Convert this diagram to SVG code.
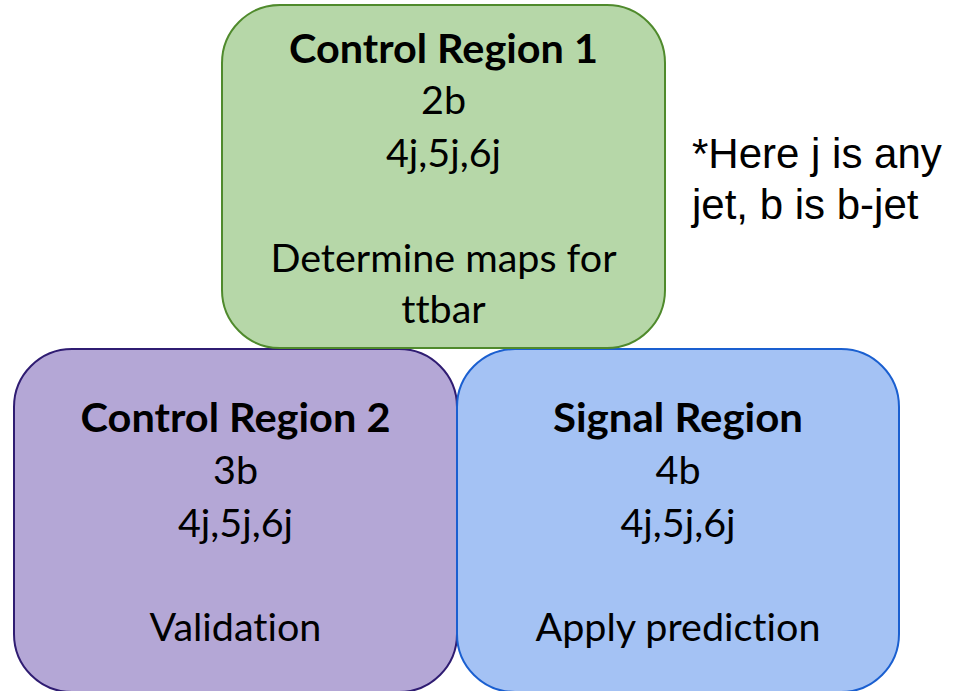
<svg xmlns="http://www.w3.org/2000/svg" width="957" height="691" viewBox="0 0 957 691">
  <style>
    .box { stroke-width: 2; }
    .cr1 { fill: #b6d7a8; stroke: #4f8a2c; }
    .cr2 { fill: #b4a7d6; stroke: #2f1c72; }
    .sr  { fill: #a4c2f4; stroke: #1a5fd0; }
    .t { font-family: Lato, "Open Sans", "Noto Sans", sans-serif; font-size: 39.5px; fill: #000; text-anchor: middle; font-variant-ligatures: none; font-feature-settings: "liga" 0, "clig" 0; }
    .title { font-weight: bold; }
    .note { font-family: "Liberation Sans", Arial, sans-serif; font-size: 42px; fill: #000; }
  </style>

  <rect width="957" height="691" fill="#ffffff"/>

  <g id="connectors"></g>

  <!-- lower left: control region 2 -->
  <g id="control-region-2">
    <rect class="box cr2" x="14" y="349" width="443" height="343" rx="58" ry="58"/>
    <text class="t title" x="235.5" y="432" textLength="310" lengthAdjust="spacingAndGlyphs">Control Region 2</text>
    <text class="t" x="235.5" y="484">3b</text>
    <text class="t" x="235.5" y="537">4j,5j,6j</text>
    <text class="t" x="235.5" y="641">Validation</text>
  </g>

  <!-- lower right: signal region -->
  <g id="signal-region">
    <rect class="box sr" x="457" y="349" width="442" height="343" rx="58" ry="58"/>
    <text class="t title" x="678" y="432" textLength="250" lengthAdjust="spacingAndGlyphs">Signal Region</text>
    <text class="t" x="678" y="484">4b</text>
    <text class="t" x="678" y="537">4j,5j,6j</text>
    <text class="t" x="678" y="641">Apply prediction</text>
  </g>

  <!-- top: control region 1 -->
  <g id="control-region-1">
    <rect class="box cr1" x="222" y="5" width="443" height="343" rx="58" ry="58"/>
    <text class="t title" x="443.5" y="63" textLength="309" lengthAdjust="spacingAndGlyphs">Control Region 1</text>
    <text class="t" x="443.5" y="114">2b</text>
    <text class="t" x="443.5" y="167">4j,5j,6j</text>
    <text class="t" x="443.5" y="272">Determine maps for</text>
    <text class="t" x="443.5" y="323">ttbar</text>
  </g>

  <!-- footnote -->
  <g id="note">
    <text class="note" x="692" y="168">*Here j is any</text>
    <text class="note" x="692" y="219">jet, b is b-jet</text>
  </g>
</svg>
